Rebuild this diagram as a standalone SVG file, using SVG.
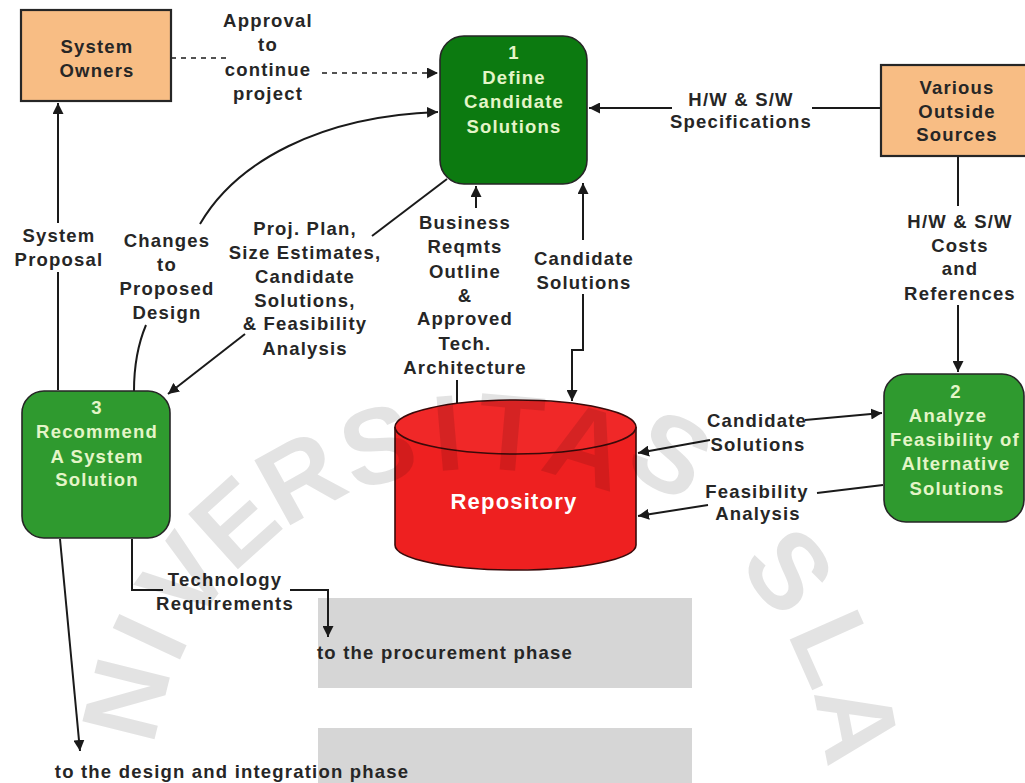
<svg xmlns="http://www.w3.org/2000/svg" width="1025" height="783" viewBox="0 0 1025 783">
  <defs>
    <marker id="arrow" viewBox="0 0 10 10" refX="10" refY="5" markerWidth="11" markerHeight="11" markerUnits="userSpaceOnUse" orient="auto-start-reverse">
      <path d="M0,0 L10,5 L0,10 z" fill="#1a1a1a"/>
    </marker>
    <style>
      text { font-family: "Liberation Sans", Arial, sans-serif; font-weight: bold; font-size: 18.5px; letter-spacing: 1.2px; text-anchor: middle; dominant-baseline: central; }
      .lbl { fill: #262626; }
      .ntxt { fill: #e4f5c8; }
      .ext { fill: #f8bd84; stroke: #262626; stroke-width: 2.2; }
      .proc1 { fill: #0c7a10; stroke: #262626; stroke-width: 1.6; }
      .proc { fill: #2f9a2f; stroke: #262626; stroke-width: 1.6; }
      .flow { fill: none; stroke: #1a1a1a; stroke-width: 2; }
      .dash { stroke-dasharray: 5 5; stroke-width: 1.5; }
      .wm text { font-size: 108px; font-weight: bold; fill: #000; letter-spacing: 0; }
    </style>
  </defs>

  <rect width="1025" height="783" fill="#ffffff"/>

  <!-- grey panels behind the outgoing phase labels -->
  <rect x="318" y="598" width="374" height="90" fill="#d6d6d6"/>
  <rect x="318" y="728" width="374" height="55" fill="#d6d6d6"/>

  <!-- data flows -->
  <g id="connectors">
    <path class="flow dash" d="M171,58 H226"/>
    <path class="flow dash" d="M322,73 H438" marker-end="url(#arrow)"/>
    <path class="flow" d="M134,391 C134,366 138,344 146,325"/>
    <path class="flow" d="M200,224 C236,162 320,116 438,112" marker-end="url(#arrow)"/>
    <path class="flow" d="M447,179 L372,236"/>
    <path class="flow" d="M245,334 L168,394" marker-end="url(#arrow)"/>
    <path class="flow" d="M457,403 V380"/>
    <path class="flow" d="M476,208 V186" marker-end="url(#arrow)"/>
    <path class="flow" d="M583,240 V183" marker-end="url(#arrow)"/>
    <path class="flow" d="M583,294 V350 H572 V401" marker-end="url(#arrow)"/>
    <path class="flow" d="M881,108 H812"/>
    <path class="flow" d="M672,108 H589" marker-end="url(#arrow)"/>
    <path class="flow" d="M958,156 V206"/>
    <path class="flow" d="M958,305 V372" marker-end="url(#arrow)"/>
    <path class="flow" d="M805,420 L882,413" marker-end="url(#arrow)"/>
    <path class="flow" d="M710,440 L638,453" marker-end="url(#arrow)"/>
    <path class="flow" d="M883,485 L817,493"/>
    <path class="flow" d="M708,505 L638,516" marker-end="url(#arrow)"/>
    <path class="flow" d="M58,390 V272"/>
    <path class="flow" d="M58,223 V103" marker-end="url(#arrow)"/>
    <path class="flow" d="M60,539 L80,751" marker-end="url(#arrow)"/>
    <path class="flow" d="M132,539 V590 H163"/>
    <path class="flow" d="M290,590 H328 V637" marker-end="url(#arrow)"/>
  </g>

  <!-- flow labels -->
  <g id="flow-labels">
    <text class="lbl" x="268" y="20">Approval</text>
    <text class="lbl" x="268" y="44">to</text>
    <text class="lbl" x="268" y="69">continue</text>
    <text class="lbl" x="268" y="93">project</text>

    <text class="lbl" x="741" y="99">H/W &amp; S/W</text>
    <text class="lbl" x="741" y="121">Specifications</text>

    <text class="lbl" x="59" y="235">System</text>
    <text class="lbl" x="59" y="259">Proposal</text>

    <text class="lbl" x="167" y="240">Changes</text>
    <text class="lbl" x="167" y="264">to</text>
    <text class="lbl" x="167" y="288">Proposed</text>
    <text class="lbl" x="167" y="312">Design</text>

    <text class="lbl" x="305" y="228">Proj. Plan,</text>
    <text class="lbl" x="305" y="252">Size Estimates,</text>
    <text class="lbl" x="305" y="276">Candidate</text>
    <text class="lbl" x="305" y="300">Solutions,</text>
    <text class="lbl" x="305" y="323">&amp; Feasibility</text>
    <text class="lbl" x="305" y="348">Analysis</text>

    <text class="lbl" x="465" y="222">Business</text>
    <text class="lbl" x="465" y="246">Reqmts</text>
    <text class="lbl" x="465" y="271">Outline</text>
    <text class="lbl" x="465" y="295">&amp;</text>
    <text class="lbl" x="465" y="318">Approved</text>
    <text class="lbl" x="465" y="343">Tech.</text>
    <text class="lbl" x="465" y="367">Architecture</text>

    <text class="lbl" x="584" y="258">Candidate</text>
    <text class="lbl" x="584" y="282">Solutions</text>

    <text class="lbl" x="960" y="221">H/W &amp; S/W</text>
    <text class="lbl" x="960" y="245">Costs</text>
    <text class="lbl" x="960" y="268">and</text>
    <text class="lbl" x="960" y="293">References</text>

    <text class="lbl" x="757" y="420">Candidate</text>
    <text class="lbl" x="758" y="444">Solutions</text>

    <text class="lbl" x="757" y="491">Feasibility</text>
    <text class="lbl" x="758" y="513">Analysis</text>

    <text class="lbl" x="225" y="579">Technology</text>
    <text class="lbl" x="225" y="603">Requirements</text>

    <text class="lbl" x="445" y="652">to the procurement phase</text>
    <text class="lbl" x="232" y="771">to the design and integration phase</text>
  </g>

  <!-- external entities -->
  <g id="system-owners">
    <rect class="ext" x="21" y="10" width="150" height="91"/>
    <text class="lbl" x="97" y="46">System</text>
    <text class="lbl" x="97" y="70">Owners</text>
  </g>

  <g id="outside-sources">
    <rect class="ext" x="881" y="65" width="150" height="91"/>
    <text class="lbl" x="957" y="87">Various</text>
    <text class="lbl" x="957" y="111">Outside</text>
    <text class="lbl" x="957" y="134">Sources</text>
  </g>

  <!-- processes -->
  <g id="process-1">
    <rect class="proc1" x="440" y="36" width="147" height="148" rx="24" ry="24"/>
    <text class="ntxt" x="514" y="52">1</text>
    <text class="ntxt" x="514" y="77">Define</text>
    <text class="ntxt" x="514" y="101">Candidate</text>
    <text class="ntxt" x="514" y="126">Solutions</text>
  </g>

  <g id="process-2">
    <rect class="proc" x="884" y="374" width="140" height="148" rx="22" ry="22"/>
    <text class="ntxt" x="956" y="391">2</text>
    <text class="ntxt" x="948" y="415">Analyze</text>
    <text class="ntxt" x="955" y="439">Feasibility of</text>
    <text class="ntxt" x="956" y="463">Alternative</text>
    <text class="ntxt" x="957" y="488">Solutions</text>
  </g>

  <g id="process-3">
    <rect class="proc" x="22" y="391" width="148" height="147" rx="22" ry="22"/>
    <text class="ntxt" x="97" y="407">3</text>
    <text class="ntxt" x="97" y="431">Recommend</text>
    <text class="ntxt" x="97" y="456">A System</text>
    <text class="ntxt" x="97" y="479">Solution</text>
  </g>

  <!-- data store -->
  <g id="repository">
    <path d="M395,427 V545 A120.5,25 0 0 0 636,545 V427" fill="#ee2020" stroke="#3a0a0a" stroke-width="1.6"/>
    <ellipse cx="515.5" cy="427" rx="120.5" ry="27" fill="#f02828" stroke="#3a0a0a" stroke-width="1.6"/>
    <text x="514" y="501" fill="#ffffff" style="font-size:22px">Repository</text>
  </g>

  <!-- faint university watermark across the sheet -->
  <g class="wm" opacity="0.11">
    <text transform="translate(88,690) rotate(-76)" y="39">N</text>
    <text transform="translate(114,620) rotate(-65)" y="39">I</text>
    <text transform="translate(152,555) rotate(-54)" y="39">V</text>
    <text transform="translate(208,493) rotate(-42)" y="39">E</text>
    <text transform="translate(281,443) rotate(-29)" y="39">R</text>
    <text transform="translate(367,408) rotate(-16)" y="39">S</text>
    <text transform="translate(444,394) rotate(-5)" y="39">I</text>
    <text transform="translate(514,394) rotate(5)" y="39">T</text>
    <text transform="translate(598,408) rotate(17)" y="39">A</text>
    <text transform="translate(690,420) rotate(29)" y="39">S</text>
    <text transform="translate(820,547) rotate(53)" y="39">S</text>
    <text transform="translate(870,632) rotate(66)" y="39">L</text>
    <text transform="translate(896,716) rotate(79)" y="39">A</text>
  </g>
</svg>
